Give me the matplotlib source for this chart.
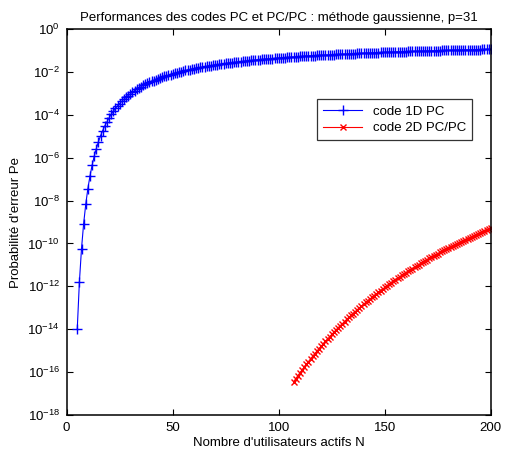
import numpy as np
import matplotlib
matplotlib.use("Agg")
import matplotlib.pyplot as plt

plt.rcParams["font.family"] = ["Liberation Sans", "DejaVu Sans"]

# log10 of the error probability (one point per user)
n_1d = np.arange(5, 201)
log_pe_1d = [
    -13.98, -11.80, -10.24, -9.08, -8.17,
    -7.44, -6.85, -6.35, -5.93, -5.57, -5.25, -4.97, -4.73, -4.51, -4.32,
    -4.14, -3.98, -3.84, -3.70, -3.58, -3.47, -3.37, -3.27, -3.18, -3.10,
    -3.02, -2.94, -2.87, -2.81, -2.75, -2.69, -2.63, -2.58, -2.53, -2.49,
    -2.44, -2.40, -2.36, -2.32, -2.28, -2.25, -2.21, -2.18, -2.15, -2.12,
    -2.09, -2.06, -2.03, -2.00, -1.98, -1.955, -1.93, -1.91, -1.887, -1.866,
    -1.845, -1.825, -1.807, -1.788, -1.770, -1.752, -1.735, -1.719, -1.702, -1.686,
    -1.671, -1.656, -1.642, -1.628, -1.614, -1.601, -1.587, -1.574, -1.562, -1.550,
    -1.538, -1.526, -1.515, -1.505, -1.494, -1.483, -1.472, -1.462, -1.453, -1.443,
    -1.433, -1.424, -1.415, -1.406, -1.397, -1.389, -1.379, -1.372, -1.363, -1.355,
    -1.347, -1.339, -1.332, -1.325, -1.317, -1.311, -1.303, -1.297, -1.290, -1.283,
    -1.277, -1.270, -1.263, -1.258, -1.252, -1.245, -1.239, -1.234, -1.228, -1.222,
    -1.216, -1.211, -1.206, -1.200, -1.195, -1.190, -1.185, -1.179, -1.175, -1.170,
    -1.165, -1.160, -1.156, -1.151, -1.147, -1.142, -1.138, -1.133, -1.129, -1.125,
    -1.121, -1.117, -1.112, -1.108, -1.104, -1.100, -1.096, -1.092, -1.089, -1.085,
    -1.081, -1.077, -1.073, -1.070, -1.066, -1.063, -1.060, -1.056, -1.053, -1.049,
    -1.046, -1.042, -1.039, -1.036, -1.032, -1.030, -1.027, -1.024, -1.020, -1.018,
    -1.015, -1.012, -1.010, -1.007, -1.003, -1.000, -0.998, -0.995, -0.992, -0.990,
    -0.987, -0.984, -0.983, -0.980, -0.977, -0.975, -0.972, -0.969, -0.968, -0.965,
    -0.962, -0.960, -0.958, -0.955, -0.953, -0.951, -0.948, -0.945, -0.944, -0.941,
    -0.939,
]

n_2d = np.arange(107, 201)
log_pe_2d = [
    -16.45, -16.31, -16.17,
    -16.03, -15.90, -15.77, -15.64, -15.51, -15.38, -15.26, -15.14, -15.02, -14.90,
    -14.79, -14.68, -14.57, -14.46, -14.35, -14.24, -14.14, -14.03, -13.93, -13.83,
    -13.74, -13.64, -13.54, -13.45, -13.36, -13.27, -13.18, -13.09, -13.00, -12.92,
    -12.83, -12.75, -12.67, -12.59, -12.51, -12.43, -12.35, -12.27, -12.20, -12.12,
    -12.05, -11.98, -11.90, -11.83, -11.76, -11.69, -11.62, -11.56, -11.49, -11.43,
    -11.36, -11.30, -11.23, -11.17, -11.11, -11.05, -10.99, -10.93, -10.87, -10.81,
    -10.75, -10.70, -10.64, -10.58, -10.53, -10.48, -10.42, -10.37, -10.32, -10.26,
    -10.21, -10.16, -10.11, -10.06, -10.01, -9.96, -9.92, -9.87, -9.82, -9.77,
    -9.73, -9.68, -9.64, -9.59, -9.55, -9.51, -9.46, -9.42, -9.38, -9.33,
    -9.29,
]

x_ticks = [0, 50, 100, 150, 200]
y_ticks = [1e-18, 1e-16, 1e-14, 1e-12, 1e-10, 1e-8, 1e-6, 1e-4, 1e-2, 1e0]

fig = plt.figure(figsize=(5.05, 4.55), dpi=100)
ax = fig.add_axes([0.132, 0.088, 0.840, 0.848])

ax.semilogy(n_1d, 10.0 ** np.array(log_pe_1d), "-+", color="blue",
            linewidth=0.8, markersize=6.5, markeredgewidth=1.0,
            label="code 1D PC")
ax.semilogy(n_2d, 10.0 ** np.array(log_pe_2d), "-x", color="red",
            linewidth=0.8, markersize=4, markeredgewidth=1.0,
            label="code 2D PC/PC")

ax.set_xlim(0, 200)
ax.set_ylim(1e-18, 1e0)
ax.set_xticks(x_ticks)
ax.set_yticks(y_ticks)
ax.yaxis.set_minor_locator(matplotlib.ticker.NullLocator())
ax.tick_params(direction="in", length=4, width=0.8, labelsize=9.5,
               top=True, right=True, pad=5)
for sp in ax.spines.values():
    sp.set_linewidth(1.1)

ax.set_title("Performances des codes PC et PC/PC : méthode gaussienne, p=31",
             fontsize=9.5, pad=6)
ax.set_xlabel("Nombre d'utilisateurs actifs N", fontsize=9.5, labelpad=2)
ax.set_ylabel("Probabilité d'erreur Pe", fontsize=9.5, labelpad=4)

leg = ax.legend(loc="upper left", bbox_to_anchor=(0.59, 0.818),
                fontsize=9.5, frameon=True, fancybox=False, borderpad=0.45,
                handlelength=3.0, labelspacing=0.35, borderaxespad=0)
leg.get_frame().set_edgecolor("black")
leg.get_frame().set_linewidth(0.9)

fig.savefig("out.png", dpi=100)
